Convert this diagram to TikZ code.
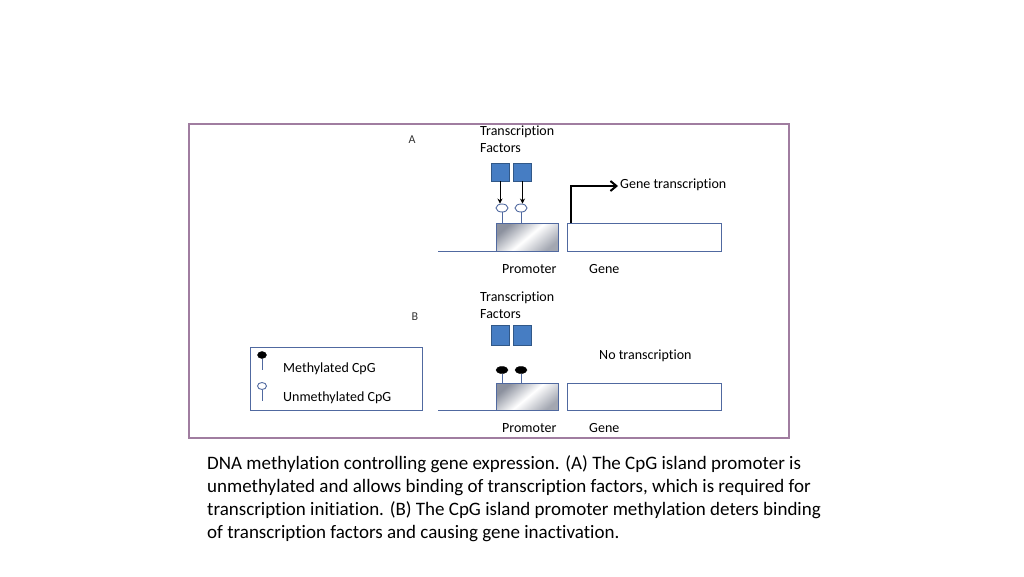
\documentclass[tikz,border=0pt]{standalone}
\usepackage{fontspec}
\setmainfont{Carlito}[Ligatures=NoCommon]
\usepackage{xcolor}
\usetikzlibrary{shapes.geometric,arrows.meta,positioning,calc}

\definecolor{framepurple}{RGB}{160,125,160}
\definecolor{tfblue}{RGB}{70,125,195}
\definecolor{edgeblue}{RGB}{80,105,160}
\definecolor{shadegray}{RGB}{140,145,158}

\begin{document}
\begin{tikzpicture}[
    x=1pt, y=-1pt,
    figtext/.style={font=\fontsize{14}{17}\selectfont, text=black, inner sep=0pt, anchor=base west},
    tfbox/.style={rectangle, fill=tfblue, draw=tfblue!70!black, line width=0.5pt,
        minimum width=18pt, minimum height=18pt, inner sep=0pt},
    promoterbox/.style={rectangle, draw=edgeblue, line width=1pt,
        top color=shadegray, bottom color=shadegray!80, middle color=white, shading angle=40,
        minimum width=62pt, minimum height=28pt, inner sep=0pt},
    genebox/.style={rectangle, draw=edgeblue, line width=1pt, fill=white,
        minimum width=154pt, minimum height=28pt, inner sep=0pt},
    unmeth/.style={ellipse, draw=edgeblue, fill=white, line width=0.9pt,
        minimum width=12pt, minimum height=8pt, inner sep=0pt},
    meth/.style={ellipse, fill=black, draw=black,
        minimum width=12pt, minimum height=7pt, inner sep=0pt},
    stem/.style={draw=edgeblue, line width=0.8pt},
    bind/.style={-{Stealth[length=5pt,width=5pt]}, line width=1pt},
    txarrow/.style={-{Straight Barb[length=6pt,width=10pt]}, line width=2pt}
]
    \useasboundingbox (0,0) rectangle (1024,576);

    % figure frame
    \node[draw=framepurple, line width=1.5pt, minimum width=600pt, minimum height=314pt,
        inner sep=0pt, anchor=north west] (frame) at (188,123) {};

    % panel A
    \node[font=\fontsize{12}{14}\selectfont, text=black!80] (labA) at (412,140) {A};
    \node[figtext, align=left, anchor=north west] (tfA) at (480,126)
        {Transcription\\Factors};
    \node[tfbox] (tfA1) at (500,172) {};
    \node[tfbox, right=4pt of tfA1] (tfA2) {};
    \node[promoterbox, anchor=north west] (promA) at (496,223) {};
    \node[genebox, right=8pt of promA] (geneA) {};
    \node[unmeth] (cpgA1) at (502,208) {};
    \node[unmeth] (cpgA2) at (521,208) {};
    \coordinate (lineA) at (438,251);
    \draw[stem] (lineA) -- (lineA -| promA.west);
    \draw[stem] (cpgA1.south) -- (cpgA1.south |- promA.north);
    \draw[stem] (cpgA2.south) -- (cpgA2.south |- promA.north);
    \draw[bind] (tfA1.south) -- (tfA1.south |- cpgA1.north);
    \draw[bind] (tfA2.south) -- (tfA2.south |- cpgA2.north);
    \coordinate (txstart) at ($(geneA.north west)+(4,0)$);
    \coordinate (txend) at (618,186);
    \draw[txarrow] (txstart) |- (txend);
    \node[figtext, anchor=west] (txA) at (620,185) {Gene transcription};
    \node[figtext] (promtxtA) at (502,273) {Promoter};
    \node[figtext] (genetxtA) at (589,273) {Gene};

    % panel B
    \node[font=\fontsize{12}{14}\selectfont, text=black!80] (labB) at (415,317) {B};
    \node[figtext, align=left, anchor=north west] (tfB) at (480,292)
        {Transcription\\Factors};
    \node[tfbox, minimum height=20pt] (tfB1) at (500,335) {};
    \node[tfbox, minimum height=20pt, right=4pt of tfB1] (tfB2) {};
    \node[promoterbox, minimum height=27pt, anchor=north west] (promB) at (496,383) {};
    \node[genebox, minimum height=27pt, right=8pt of promB] (geneB) {};
    \node[meth] (cpgB1) at (502,370) {};
    \node[meth] (cpgB2) at (521,370) {};
    \coordinate (lineB) at (438,410);
    \draw[stem] (lineB) -- (lineB -| promB.west);
    \draw[stem] (cpgB1.south) -- (cpgB1.south |- promB.north);
    \draw[stem] (cpgB2.south) -- (cpgB2.south |- promB.north);
    \node[figtext, anchor=west] (notx) at (599,356) {No transcription};
    \node[figtext] (promtxtB) at (502,432) {Promoter};
    \node[figtext] (genetxtB) at (589,432) {Gene};

    % legend
    \node[draw=edgeblue, line width=1pt, minimum width=172pt, minimum height=63pt,
        inner sep=0pt, anchor=north west] (legend) at (250,347) {};
    \node[meth, minimum width=9pt, minimum height=7pt] (legmeth) at (262,355) {};
    \node[unmeth, minimum width=9pt, minimum height=7pt] (legunmeth) at (262,386) {};
    \draw[stem] (legmeth.south) -- ++(0,11);
    \draw[stem] (legunmeth.south) -- ++(0,11);
    \node[figtext] (legtxt1) at (283,372) {Methylated CpG};
    \node[figtext] (legtxt2) at (283,401) {Unmethylated CpG};

    % caption
    \node[font=\fontsize{19}{23}\selectfont, align=left, anchor=north west, inner sep=0pt]
        (caption) at (207,455)
        {DNA methylation controlling gene expression. (A) The CpG island promoter is\\
         unmethylated and allows binding of transcription factors, which is required for\\
         transcription initiation. (B) The CpG island promoter methylation deters binding\\
         of transcription factors and causing gene inactivation.};
\end{tikzpicture}
\end{document}
